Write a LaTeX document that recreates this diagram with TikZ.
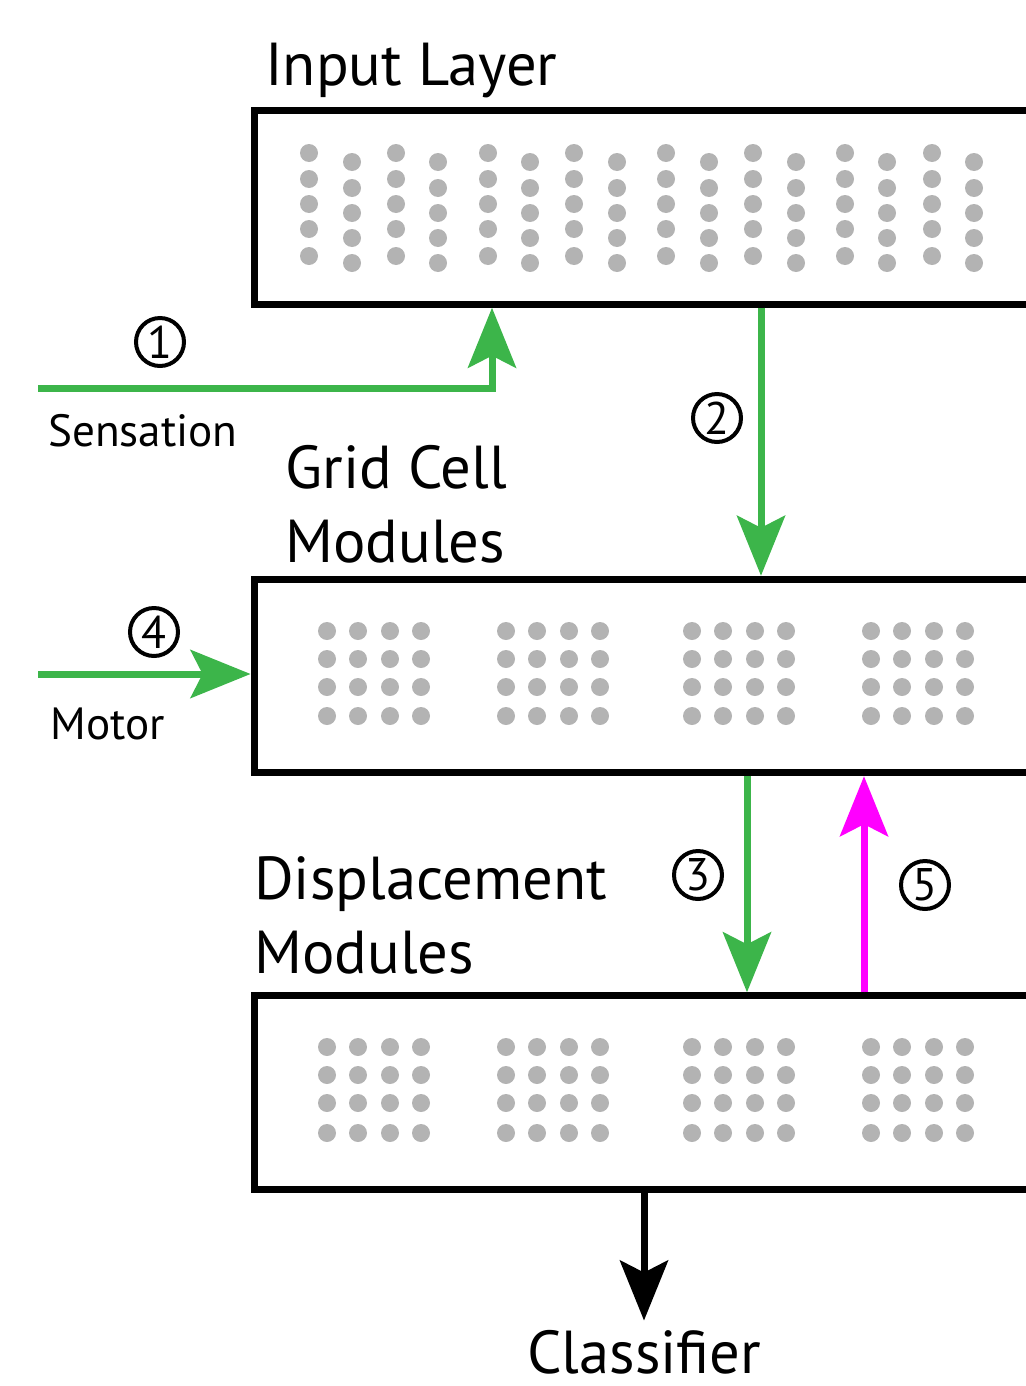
\documentclass[tikz,border=0pt]{standalone}
\usepackage{fontspec}
\setmainfont{PT Sans}
\usetikzlibrary{arrows.meta}
\definecolor{senseGreen}{RGB}{60,181,74}
\definecolor{fbMagenta}{RGB}{255,0,255}
\definecolor{dotGray}{RGB}{179,179,179}

\begin{document}
\begin{tikzpicture}[x=0.02cm,y=-0.02cm,
  layerbox/.style={draw=black,line width=0.14cm,minimum width=16.92cm,minimum height=3.87cm,inner sep=0},
  title/.style={font=\fontsize{34.5}{42}\selectfont,anchor=base west,inner sep=0,align=left},
  label/.style={font=\fontsize{25.7}{28}\selectfont,anchor=base west,inner sep=0},
  numcirc/.style={draw=black,circle,line width=0.08cm,minimum size=0.96cm,inner sep=0,font=\fontsize{26}{26}\selectfont},
  tip/.style={-{Stealth[length=1.2cm,width=0.96cm,inset=0.24cm]}},
  greenarrow/.style={tip,draw=senseGreen,line width=0.14cm},
  dot/.style={fill=dotGray}]
\useasboundingbox (0,0) rectangle (1026,1386);
\clip (0,0) rectangle (1026,1386);

\node[title] (inputtitle) at (265,85) {Input Layer};
\node[layerbox] (input) at (677,207.5) {};
\foreach \x in {309,396,488,574,666,753,845,932}
  \foreach \y in {153,179,204,229,256}
    \fill[dot] (\x,\y) circle (9);
\foreach \x in {352,438,530,617,709,796,887,974}
  \foreach \y in {162,188,213,238,263}
    \fill[dot] (\x,\y) circle (9);

\node[title] (gridtitle) at (285,562) {Grid Cell\\Modules};
\node[layerbox] (grid) at (677,676) {};
\foreach \g in {327,506,692,871}
  \foreach \dx in {0,31,63,94}
    \foreach \y in {631,659,687,716}
      \fill[dot] (\g+\dx,\y) circle (9);

\node[title] (disptitle) at (254,973) {Displacement\\Modules};
\node[layerbox] (disp) at (677,1092.5) {};
\foreach \g in {327,506,692,871}
  \foreach \dx in {0,31,63,94}
    \foreach \y in {1047,1075,1103,1133}
      \fill[dot] (\g+\dx,\y) circle (9);

\node[label] (senslabel) at (48,446) {Sensation};
\node[label] (motorlabel) at (50,739) {Motor};
\node[font=\fontsize{34.5}{42}\selectfont,anchor=base,inner sep=0] (classifier) at (644,1373) {Classifier};

\coordinate (sens) at (38,388);
\coordinate (motor) at (38,674);
\coordinate (a1) at (492,0);
\coordinate (a2) at (761,0);
\coordinate (a3) at (747,0);
\coordinate (a5) at (864,0);

\draw[greenarrow] (sens) -| (input.south -| a1);
\draw[greenarrow] (input.south -| a2) -- (grid.north -| a2);
\draw[greenarrow] (motor) -- (grid.west |- motor);
\draw[greenarrow] (grid.south -| a3) -- (disp.north -| a3);
\draw[tip,draw=fbMagenta,fill=fbMagenta,line width=0.14cm] (disp.north -| a5) -- (grid.south -| a5);
\draw[tip,line width=0.14cm,shorten >=0.18cm] (disp.south -| classifier) -- (classifier.north);

\node[numcirc] (n1) at (160,342) {1};
\node[numcirc] (n2) at (717,418) {2};
\node[numcirc] (n3) at (698,875) {3};
\node[numcirc] (n4) at (154,632) {4};
\node[numcirc] (n5) at (925,885) {5};
\end{tikzpicture}
\end{document}
